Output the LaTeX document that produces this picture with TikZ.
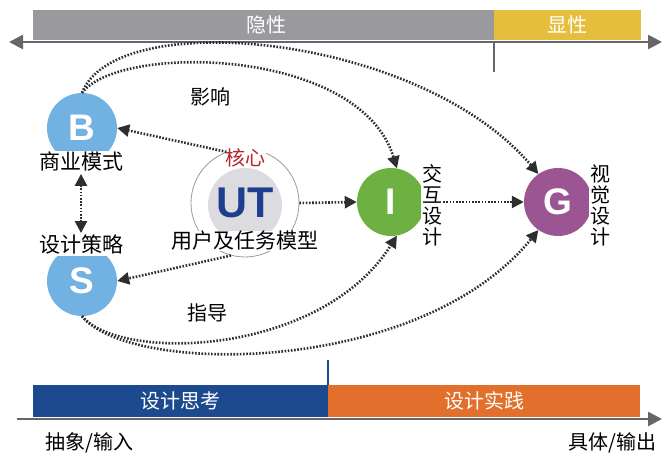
\documentclass[tikz,border=0pt]{standalone}
\usepackage{fontspec}
\setmainfont{Liberation Sans}
\newfontfamily\cjk{Noto Sans CJK SC}
\usetikzlibrary{arrows.meta}
\definecolor{barGray}{HTML}{9A999E}
\definecolor{barYellow}{HTML}{E6BE3E}
\definecolor{barBlue}{HTML}{1D4A8E}
\definecolor{barOrange}{HTML}{E2702C}
\definecolor{axisGray}{HTML}{666666}
\definecolor{ballBlue}{HTML}{72B2E2}
\definecolor{ballGreen}{HTML}{6CB141}
\definecolor{ballPurple}{HTML}{9A5592}
\definecolor{utGray}{HTML}{DCDCE0}
\definecolor{utBlue}{HTML}{1E3F8E}
\definecolor{coreRed}{HTML}{B5252A}
\definecolor{dotGray}{HTML}{2E2E2E}
\tikzset{
  axisline/.style={draw=axisGray, line width=2.6pt},
  bartext/.style={text=white, font=\cjk\fontsize{20}{22}\selectfont},
  ball/.style={circle, minimum size=70pt, inner sep=0pt, text=white, font=\bfseries\fontsize{37}{37}\selectfont},
  lbl/.style={fill=white, inner sep=1pt, font=\cjk\fontsize{21}{23}\selectfont, text=black},
  vlbl/.style={fill=white, inner sep=1pt, align=center, font=\cjk\fontsize{20}{21}\selectfont, text=black},
  dotarrow/.style={draw=dotGray, line width=2.6pt, dash pattern=on 1.6pt off 1.6pt,
     -{Triangle[length=12pt,width=12pt,fill=dotGray]}},
  dotboth/.style={draw=dotGray, line width=2.6pt, dash pattern=on 1.6pt off 1.6pt,
     {Triangle[length=12pt,width=12pt,fill=dotGray]}-{Triangle[length=12pt,width=12pt,fill=dotGray]}},
  axistip/.style={-{Triangle[length=14pt,width=14pt]}}
}
\begin{document}
\begin{tikzpicture}[x=1pt,y=-1pt]
\useasboundingbox (0,0) rectangle (662,454);
% top bar
\node[fill=barGray, minimum width=461pt, minimum height=30pt, inner sep=0pt, anchor=north west] (hid) at (33,10) {};
\node[fill=barYellow, minimum width=147pt, minimum height=30pt, inner sep=0pt, anchor=north west] (vis) at (494,10) {};
\node[bartext] (hidt) at (266,25) {隐性};
\node[bartext] (vist) at (567,25) {显性};
\coordinate (tl) at (9,42);
\coordinate (tr) at (662,42);
\draw[axisline, {Triangle[length=14pt,width=14pt]}-{Triangle[length=14pt,width=14pt]}] (tl) -- (tr);
\coordinate (tick1) at (494,41);
\coordinate (tick2) at (494,72);
\draw[draw=axisGray, line width=1.8pt] (tick1) -- (tick2);
% bottom bar
\node[fill=barBlue, minimum width=295pt, minimum height=32pt, inner sep=0pt, anchor=north west] (think) at (33,385) {};
\node[fill=barOrange, minimum width=312pt, minimum height=32pt, inner sep=0pt, anchor=north west] (prac) at (328,385) {};
\node[bartext] (thinkt) at (think.center) {设计思考};
\node[bartext] (pract) at (prac.center) {设计实践};
\coordinate (bl) at (17,419);
\coordinate (br) at (662,419);
\draw[axisline, axistip] (bl) -- (br);
\coordinate (btick1) at (328,360);
\coordinate (btick2) at (328,385);
\draw[draw=barBlue, line width=1.6pt] (btick1) -- (btick2);
\node[font=\cjk\fontsize{20}{22}\selectfont, anchor=west, inner sep=0pt] (abs) at (45,443) {抽象/输入};
\node[font=\cjk\fontsize{20}{22}\selectfont, anchor=east, inner sep=0pt] (con) at (657,443) {具体/输出};
% balls
\node[ball, fill=ballBlue] (B) at (82,128) {B};
\node[ball, fill=ballBlue] (S) at (82,281) {S};
\node[ball, fill=ballGreen, minimum size=68pt] (I) at (391,202) {I};
\node[ball, fill=ballPurple, minimum size=68pt] (G) at (558,202) {G};
\node[lbl] (Bl) at (81,162) {商业模式};
\node[lbl] (Sl) at (81,245) {设计策略};
\node[vlbl] (Il) at (432,205) {交\\互\\设\\计};
\node[vlbl] (Gl) at (600,205) {视\\觉\\设\\计};
% UT
\node[circle, draw=gray!80, line width=0.8pt, minimum size=108pt, inner sep=0pt] (ut) at (245,203) {};
\node[circle, fill=utGray, minimum size=74pt, inner sep=0pt] (uti) at (245,205) {};
\node[text=utBlue, font=\bfseries\fontsize{43}{43}\selectfont] (utt) at (245,203) {UT};
\node[lbl, text=coreRed, inner sep=0.5pt, font=\cjk\fontsize{20}{22}\selectfont] (core) at (245,158) {核心};
\node[lbl, inner sep=0.5pt] (utl) at (245,241) {用户及任务模型};
% labels
\node[font=\cjk\fontsize{20}{22}\selectfont] (infl) at (210,97) {影响};
\node[font=\cjk\fontsize{20}{22}\selectfont] (guid) at (207,313) {指导};
% arrows
\draw[dotarrow] (ut.110) -- (B.east);
\draw[dotarrow] (ut.-105) -- (S.east);
\draw[dotarrow] (ut.east) -- (I.west);
\draw[dotarrow] (Il.east |- I.east) -- (G.west);
\draw[dotboth, shorten <=1pt, shorten >=1pt] (Bl.south) -- (Sl.north);
\draw[dotarrow] (B.north) .. controls (120,43) and (360,47) .. (I.80);
\draw[dotarrow] (B.north) .. controls (116,5) and (420,34) .. (G.125);
\draw[dotarrow] (S.south) .. controls (120,362) and (320,357) .. (I.-80);
\draw[dotarrow] (S.south) .. controls (130,376) and (420,376) .. (G.-125);
\end{tikzpicture}
\end{document}
